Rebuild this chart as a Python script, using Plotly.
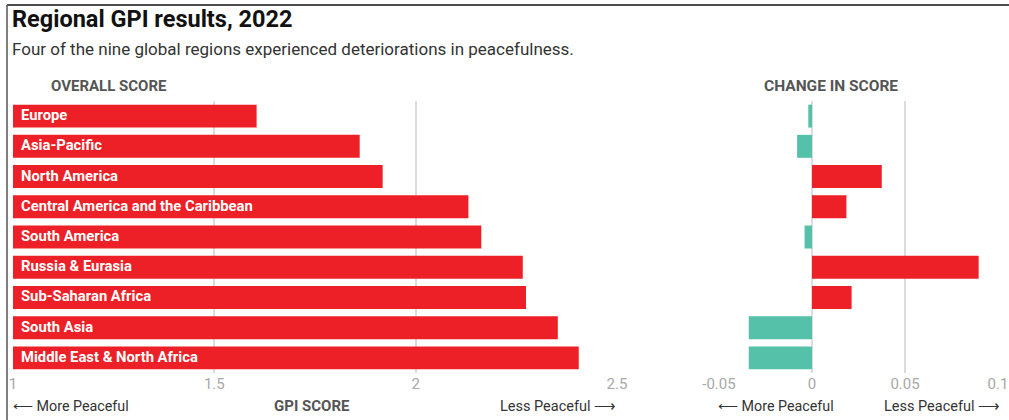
import plotly.graph_objects as go

regions = ["Europe", "Asia-Pacific", "North America", "Central America and the Caribbean",
           "South America", "Russia & Eurasia", "Sub-Saharan Africa", "South Asia",
           "Middle East & North Africa"]
overall_score = [1.605, 1.861, 1.918, 2.131, 2.163, 2.266, 2.274, 2.353, 2.405]
score_change = [-0.002, -0.008, 0.0375, 0.0185, -0.004, 0.0896, 0.0213, -0.034, -0.034]
left_ticks = [1, 1.5, 2, 2.5]
left_tick_text = ["1", "1.5", "2", "2.5"]
right_ticks = [-0.05, 0, 0.05, 0.1]
right_tick_text = ["-0.05", "0", "0.05", "0.1"]

RED = "#ED1F27"
TEAL = "#55C1A8"
W, H = 1009, 420

fig = go.Figure()
fig.add_trace(go.Bar(
    x=[v - 1 for v in overall_score], base=1, y=regions, orientation="h",
    marker=dict(color=RED, line=dict(width=0)), xaxis="x", yaxis="y",
    hoverinfo="skip", showlegend=False))
fig.add_trace(go.Bar(
    x=score_change, y=regions, orientation="h",
    marker=dict(color=[RED if v > 0 else TEAL for v in score_change], line=dict(width=0)),
    xaxis="x2", yaxis="y2", hoverinfo="skip", showlegend=False))

ydom = [1 - 373 / H, 1 - 101 / H]
grid = dict(showgrid=True, gridcolor="#dcdcdc", gridwidth=1.5, zeroline=False,
            showline=False, ticks="", automargin=False,
            tickfont=dict(family="Roboto", size=15, color="#a8a8a8"))
fig.update_layout(
    width=W, height=H, margin=dict(l=0, r=0, t=0, b=0, autoexpand=False),
    paper_bgcolor="white", plot_bgcolor="white", bargap=0.24,
    xaxis=dict(domain=[13 / W, 617 / W], range=[1, 2.5], tickvals=left_ticks,
               ticktext=left_tick_text, anchor="y", **grid),
    xaxis2=dict(domain=[719 / W, 998 / W], range=[-0.05, 0.1], tickvals=right_ticks,
                ticktext=right_tick_text, anchor="y2", **grid),
    yaxis=dict(domain=ydom, autorange="reversed", showticklabels=False, showgrid=False,
               zeroline=False, showline=False, ticks="", automargin=False),
    yaxis2=dict(domain=ydom, autorange="reversed", showticklabels=False, showgrid=False,
                zeroline=False, showline=False, ticks="", anchor="x2", automargin=False),
    font=dict(family="Roboto"),
)

ann = []
for r in regions:
    ann.append(dict(x=1, y=r, xref="x", yref="y", text="<b>%s</b>" % r, showarrow=False,
                    xanchor="left", xshift=6, yshift=1,
                    font=dict(family="Roboto", size=14.8, color="white")))

def ptext(x, y, text, size, color, anchor="left", family="Roboto"):
    ann.append(dict(x=x / W, y=1 - y / H, xref="paper", yref="paper", text=text,
                    showarrow=False, xanchor=anchor, yanchor="middle",
                    font=dict(family=family, size=size, color=color)))

ptext(10, 19, "<b>Regional GPI results, 2022</b>", 23.5, "#111")
ptext(10, 49, "Four of the nine global regions experienced deteriorations in peacefulness.", 17, "#333")
ptext(109, 86, "<b>OVERALL SCORE</b>", 15, "#555", "center")
ptext(831, 86, "<b>CHANGE IN SCORE</b>", 15.5, "#555", "center")
ptext(11, 406, "\u27f5 More Peaceful", 14.3, "#333")
ptext(312, 406, "<b>GPI SCORE</b>", 15, "#555", "center")
ptext(618, 406, "Less Peaceful \u27f6", 14.5, "#333", "right")
ptext(716, 406, "\u27f5 More Peaceful", 14.3, "#333")
ptext(1002, 406, "Less Peaceful \u27f6", 14.5, "#333", "right")
fig.update_layout(annotations=ann)

fig.update_layout(shapes=[
    dict(type="line", xref="paper", yref="paper", x0=7 / W, x1=1, y0=1 - 5 / H, y1=1 - 5 / H,
         line=dict(color="#111", width=1.5)),
    dict(type="line", xref="paper", yref="paper", x0=7 / W, x1=7 / W, y0=1 - 5 / H, y1=0,
         line=dict(color="#555", width=1.5)),
])

fig.write_html("out.html")
